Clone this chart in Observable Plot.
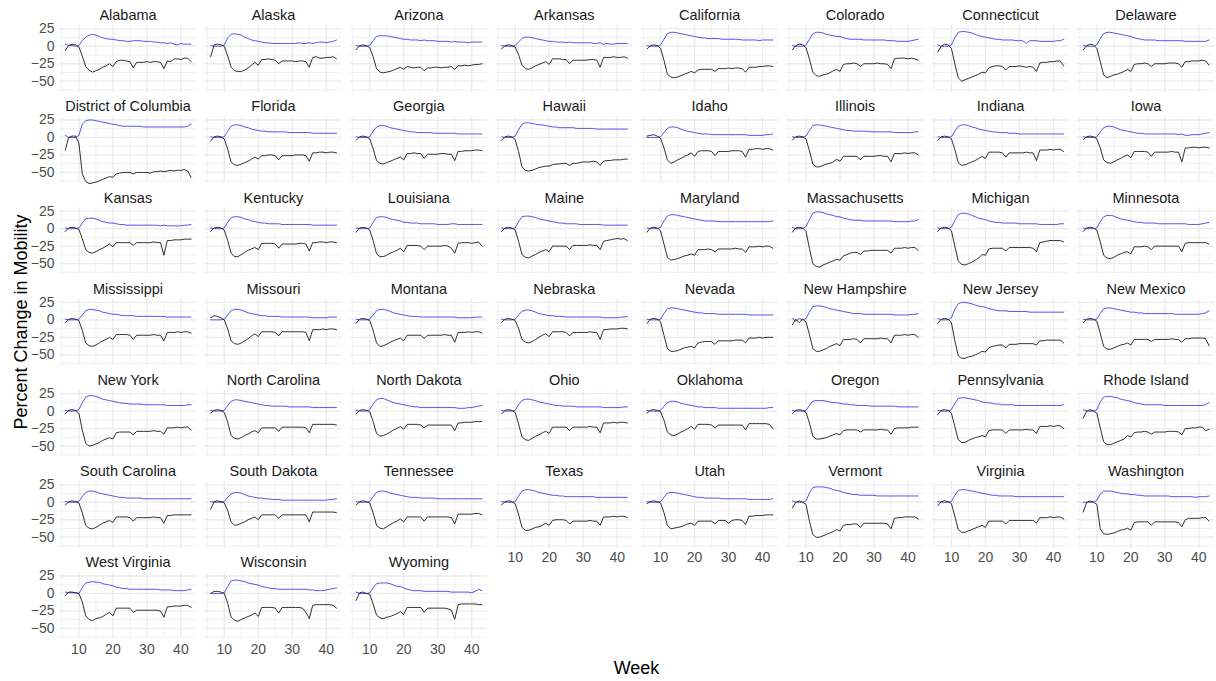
<!DOCTYPE html>
<html>
<head>
<meta charset="utf-8">
<script src="https://cdn.jsdelivr.net/npm/d3@7"></script>
<script src="https://cdn.jsdelivr.net/npm/@observablehq/plot@0.6"></script>
<style>
  html, body { margin: 0; padding: 0; background: #ffffff; }
  #chart { position: relative; width: 1216px; height: 681px; }
</style>
</head>
<body>
<div id="chart"></div>
<script>
// ---------------- data ----------------
const weeks = [6,7,8,9,10,11,12,13,14,15,16,17,18,19,20,21,22,23,24,25,26,27,28,29,30,31,32,33,34,35,36,37,38,39,40,41,42,43];

const states = ["Alabama","Alaska","Arizona","Arkansas","California","Colorado","Connecticut","Delaware",
  "District of Columbia","Florida","Georgia","Hawaii","Idaho","Illinois","Indiana","Iowa",
  "Kansas","Kentucky","Louisiana","Maine","Maryland","Massachusetts","Michigan","Minnesota",
  "Mississippi","Missouri","Montana","Nebraska","Nevada","New Hampshire","New Jersey","New Mexico",
  "New York","North Carolina","North Dakota","Ohio","Oklahoma","Oregon","Pennsylvania","Rhode Island",
  "South Carolina","South Dakota","Tennessee","Texas","Utah","Vermont","Virginia","Washington",
  "West Virginia","Wisconsin","Wyoming"];

// black line (one row per state, weeks 6..43)
const workplaces = [
  [-6,1,3,2,-1,-14,-29,-34,-37,-35,-33,-30,-28,-25,-29,-22,-20,-20,-21,-22,-31,-23,-23,-23,-22,-23,-22,-22,-23,-32,-21,-22,-18,-18,-19,-17,-17,-22],
  [-15,2,3,2,0,-14,-30,-35,-36,-36,-34,-31,-27,-23,-27,-19,-19,-18,-19,-20,-25,-21,-21,-21,-21,-22,-21,-21,-22,-30,-16,-15,-17,-17,-16,-16,-15,-18],
  [-5,1,2,1,-2,-15,-32,-37,-38,-37,-36,-34,-32,-30,-33,-29,-30,-31,-30,-30,-35,-31,-31,-30,-30,-31,-30,-30,-29,-33,-28,-28,-27,-28,-27,-26,-26,-25],
  [-4,1,2,1,-1,-12,-27,-32,-33,-31,-28,-26,-24,-22,-26,-18,-18,-18,-19,-19,-25,-20,-20,-20,-20,-20,-19,-19,-20,-30,-16,-16,-16,-15,-16,-16,-15,-17],
  [-4,1,2,1,-3,-20,-40,-44,-45,-44,-42,-40,-38,-36,-38,-34,-33,-33,-33,-33,-36,-32,-32,-32,-31,-32,-31,-31,-32,-37,-30,-30,-30,-29,-29,-28,-28,-29],
  [-5,1,3,2,-2,-18,-37,-42,-43,-41,-40,-38,-35,-33,-36,-26,-25,-25,-24,-25,-29,-25,-25,-25,-25,-24,-25,-25,-26,-32,-18,-17,-17,-17,-18,-17,-18,-20],
  [-8,0,3,2,-3,-25,-45,-50,-48,-46,-44,-42,-40,-37,-38,-31,-29,-28,-28,-29,-34,-29,-29,-29,-28,-29,-30,-29,-30,-36,-24,-23,-23,-22,-22,-21,-21,-28],
  [-5,1,3,2,-3,-22,-41,-45,-43,-41,-40,-38,-36,-33,-36,-26,-25,-25,-24,-25,-29,-25,-25,-25,-25,-24,-24,-24,-25,-30,-22,-22,-21,-21,-21,-20,-21,-27],
  [-18,0,2,2,-8,-52,-63,-66,-65,-64,-62,-60,-58,-56,-57,-52,-51,-50,-50,-50,-52,-50,-50,-50,-50,-51,-49,-49,-48,-49,-48,-47,-48,-47,-47,-46,-48,-57],
  [-5,1,2,1,-2,-17,-35,-39,-40,-38,-36,-34,-31,-28,-31,-26,-26,-25,-25,-26,-32,-26,-26,-26,-26,-25,-25,-25,-26,-34,-22,-22,-21,-21,-22,-21,-21,-22],
  [-4,1,2,1,-2,-16,-33,-37,-38,-36,-34,-32,-30,-28,-32,-23,-23,-22,-23,-23,-30,-24,-24,-24,-24,-23,-23,-24,-24,-33,-20,-20,-19,-19,-19,-18,-18,-19],
  [-4,1,2,1,-3,-20,-42,-47,-48,-47,-45,-43,-42,-41,-41,-39,-38,-38,-37,-37,-40,-37,-37,-36,-35,-35,-35,-34,-35,-40,-34,-33,-33,-32,-32,-32,-31,-31],
  [2,3,4,2,-1,-15,-32,-37,-35,-32,-30,-27,-25,-22,-27,-20,-19,-19,-19,-20,-26,-20,-20,-20,-20,-19,-19,-19,-20,-28,-17,-17,-16,-16,-17,-16,-16,-18],
  [-4,1,2,1,-2,-19,-38,-42,-42,-40,-38,-37,-35,-31,-34,-27,-27,-27,-27,-27,-32,-27,-27,-27,-27,-26,-26,-27,-27,-35,-23,-23,-23,-22,-23,-22,-22,-25],
  [-4,1,2,1,-2,-17,-36,-40,-39,-37,-35,-33,-30,-27,-30,-21,-21,-21,-21,-22,-28,-22,-22,-22,-22,-22,-21,-22,-22,-33,-18,-18,-18,-17,-18,-17,-17,-20],
  [-3,1,2,1,-2,-15,-32,-36,-37,-35,-32,-30,-27,-25,-29,-20,-20,-20,-20,-21,-27,-21,-21,-21,-21,-21,-20,-21,-21,-35,-15,-15,-14,-14,-15,-14,-14,-15],
  [-4,1,2,1,-1,-14,-30,-34,-35,-33,-30,-28,-25,-22,-26,-20,-20,-20,-20,-20,-24,-20,-20,-20,-20,-20,-19,-20,-20,-38,-17,-17,-16,-16,-16,-15,-15,-15],
  [-4,1,2,1,-2,-17,-35,-40,-40,-37,-34,-31,-29,-27,-30,-21,-21,-21,-21,-22,-28,-22,-22,-22,-22,-22,-21,-21,-22,-32,-20,-20,-19,-19,-20,-19,-19,-20],
  [-5,1,2,1,-2,-17,-36,-40,-40,-38,-35,-33,-31,-28,-33,-24,-24,-24,-24,-25,-30,-25,-25,-25,-25,-25,-24,-25,-28,-35,-21,-20,-20,-20,-21,-20,-19,-25],
  [-4,1,2,1,-2,-18,-37,-41,-42,-39,-37,-34,-32,-30,-33,-25,-25,-25,-25,-25,-30,-24,-24,-24,-24,-24,-23,-24,-24,-30,-18,-17,-16,-15,-14,-15,-14,-17],
  [-5,1,2,1,-3,-22,-41,-45,-44,-43,-41,-39,-38,-36,-38,-30,-30,-30,-29,-30,-33,-29,-29,-29,-29,-29,-28,-29,-29,-34,-26,-26,-26,-25,-26,-25,-25,-28],
  [-5,1,2,1,-4,-28,-50,-54,-55,-52,-50,-48,-46,-44,-45,-39,-37,-35,-34,-34,-37,-32,-32,-31,-31,-31,-31,-31,-31,-35,-28,-28,-28,-27,-28,-27,-27,-31],
  [-4,1,2,1,-3,-25,-46,-51,-52,-50,-48,-45,-42,-37,-38,-29,-28,-28,-28,-28,-32,-27,-27,-27,-27,-27,-27,-27,-28,-33,-20,-19,-18,-17,-17,-17,-17,-19],
  [-4,1,2,1,-2,-19,-38,-42,-43,-41,-38,-36,-34,-33,-36,-26,-26,-26,-25,-26,-30,-25,-25,-25,-25,-25,-25,-25,-25,-33,-21,-20,-20,-20,-20,-20,-20,-22],
  [-4,1,2,1,-1,-15,-33,-37,-38,-36,-33,-30,-28,-25,-28,-21,-21,-21,-21,-22,-28,-22,-22,-22,-22,-22,-21,-22,-22,-30,-18,-18,-18,-17,-18,-17,-17,-19],
  [3,6,5,3,0,-13,-30,-34,-35,-33,-30,-27,-23,-20,-24,-17,-17,-17,-17,-18,-23,-17,-17,-17,-17,-17,-17,-17,-18,-30,-14,-14,-14,-13,-14,-13,-13,-14],
  [-5,1,2,1,-1,-15,-33,-38,-37,-35,-32,-30,-28,-26,-30,-22,-22,-22,-22,-22,-27,-22,-22,-22,-22,-22,-21,-22,-22,-32,-18,-18,-18,-17,-18,-17,-17,-19],
  [-4,1,2,1,-1,-12,-28,-32,-33,-31,-28,-25,-22,-20,-24,-17,-17,-17,-17,-18,-23,-18,-18,-18,-18,-18,-17,-18,-18,-28,-14,-14,-13,-13,-13,-12,-12,-13],
  [-5,1,2,1,-3,-22,-41,-45,-45,-44,-42,-40,-39,-38,-40,-33,-32,-31,-31,-31,-35,-30,-30,-30,-30,-30,-29,-29,-29,-33,-26,-26,-26,-25,-26,-25,-25,-25],
  [-7,1,-4,1,-3,-21,-41,-45,-45,-43,-41,-38,-36,-34,-37,-28,-28,-28,-27,-28,-33,-27,-27,-27,-27,-27,-26,-27,-27,-33,-22,-22,-22,-21,-22,-21,-21,-25],
  [-5,1,2,1,-4,-30,-51,-55,-55,-53,-52,-50,-48,-45,-46,-40,-38,-37,-36,-36,-40,-35,-35,-35,-34,-34,-34,-34,-34,-36,-30,-30,-29,-29,-29,-29,-29,-33],
  [-4,1,2,1,-2,-19,-38,-42,-42,-40,-38,-36,-35,-33,-36,-28,-28,-28,-28,-28,-31,-28,-28,-28,-28,-28,-27,-28,-28,-32,-27,-27,-26,-26,-26,-26,-27,-37],
  [-4,1,2,1,-3,-27,-46,-50,-49,-47,-45,-42,-40,-38,-40,-31,-30,-30,-30,-30,-34,-29,-29,-29,-29,-29,-28,-29,-29,-33,-24,-24,-24,-23,-24,-23,-23,-27],
  [-3,1,2,1,-2,-16,-35,-39,-40,-38,-35,-33,-30,-28,-31,-24,-24,-24,-24,-24,-29,-23,-23,-23,-23,-23,-23,-23,-24,-31,-19,-19,-19,-19,-19,-19,-19,-20],
  [-4,1,2,1,-1,-15,-32,-36,-35,-33,-30,-27,-25,-22,-26,-19,-19,-19,-19,-20,-24,-20,-20,-20,-20,-20,-20,-20,-20,-28,-17,-17,-16,-16,-16,-15,-15,-15],
  [-4,1,2,1,-2,-18,-37,-41,-42,-39,-36,-34,-31,-29,-32,-23,-23,-23,-23,-23,-28,-23,-23,-23,-23,-23,-22,-23,-23,-31,-17,-17,-17,-16,-17,-16,-16,-17],
  [-3,1,2,1,-1,-13,-30,-34,-35,-33,-30,-28,-25,-22,-26,-19,-19,-19,-19,-20,-24,-20,-20,-20,-20,-20,-20,-20,-20,-27,-18,-18,-18,-18,-18,-18,-19,-25],
  [-4,1,2,1,-2,-17,-36,-40,-40,-39,-38,-36,-34,-32,-34,-28,-27,-27,-27,-27,-30,-27,-27,-27,-27,-27,-26,-27,-27,-33,-25,-24,-24,-24,-24,-23,-23,-23],
  [-5,1,2,1,-3,-22,-41,-45,-45,-42,-40,-38,-37,-35,-37,-28,-27,-27,-27,-27,-32,-27,-27,-27,-27,-27,-26,-27,-27,-32,-22,-22,-22,-21,-22,-21,-21,-25],
  [-10,0,2,0,-3,-24,-44,-48,-48,-46,-44,-42,-40,-35,-37,-31,-30,-30,-29,-30,-33,-30,-30,-30,-30,-29,-29,-29,-30,-34,-25,-25,-24,-24,-23,-23,-28,-26],
  [-4,1,2,1,-1,-15,-33,-37,-38,-36,-33,-30,-28,-26,-29,-21,-21,-21,-21,-22,-27,-22,-22,-22,-22,-22,-21,-22,-22,-30,-19,-19,-18,-18,-18,-18,-18,-18],
  [-10,1,2,1,-1,-12,-28,-33,-32,-30,-28,-25,-23,-21,-25,-18,-18,-18,-18,-18,-23,-18,-18,-18,-18,-18,-18,-18,-18,-28,-14,-14,-14,-14,-14,-14,-14,-15],
  [-4,1,2,1,-1,-15,-33,-37,-38,-35,-32,-29,-27,-24,-28,-21,-21,-21,-21,-21,-27,-21,-21,-21,-21,-21,-21,-21,-22,-31,-17,-17,-17,-17,-17,-16,-16,-18],
  [-4,1,2,1,-2,-17,-36,-40,-40,-38,-36,-35,-33,-30,-33,-26,-25,-25,-25,-26,-31,-27,-27,-27,-27,-27,-26,-27,-27,-33,-21,-21,-21,-20,-21,-20,-20,-22],
  [-2,1,2,1,-1,-15,-33,-38,-37,-36,-35,-33,-31,-30,-33,-27,-27,-27,-27,-27,-31,-26,-26,-26,-30,-26,-25,-25,-26,-32,-20,-20,-19,-19,-19,-18,-18,-18],
  [-8,0,2,0,-3,-27,-46,-50,-50,-48,-46,-44,-42,-39,-41,-33,-32,-32,-31,-31,-36,-30,-30,-30,-30,-30,-30,-30,-31,-38,-23,-22,-22,-21,-21,-21,-21,-24],
  [-5,1,2,1,-2,-20,-39,-43,-43,-41,-39,-37,-35,-33,-36,-27,-27,-27,-27,-27,-31,-26,-26,-26,-26,-26,-26,-26,-26,-30,-22,-22,-22,-21,-22,-21,-21,-24],
  [-14,0,2,0,-3,-38,-45,-46,-45,-44,-42,-40,-39,-37,-40,-29,-28,-28,-28,-28,-33,-28,-28,-28,-28,-28,-28,-28,-29,-35,-25,-23,-23,-23,-23,-22,-22,-27],
  [-3,2,2,1,0,-12,-32,-37,-39,-36,-35,-33,-30,-27,-32,-21,-21,-21,-21,-21,-27,-24,-24,-24,-24,-24,-24,-24,-25,-34,-19,-19,-18,-18,-18,-17,-17,-20],
  [0,3,3,2,0,-14,-34,-38,-40,-37,-35,-33,-31,-28,-33,-20,-20,-20,-20,-21,-28,-20,-20,-20,-20,-20,-20,-21,-27,-36,-17,-16,-16,-16,-16,-16,-17,-21],
  [-10,1,2,0,-1,-15,-31,-35,-36,-34,-33,-31,-29,-26,-30,-20,-20,-20,-20,-20,-27,-21,-21,-21,-21,-21,-21,-22,-24,-37,-16,-15,-15,-15,-15,-15,-16,-16]
];

// blue line (one row per state, weeks 6..43)
const residential = [
  [3,1,1,0,1,8,13,16,17,16,14,12,11,10,10,9,8,8,7,7,8,8,8,7,7,7,6,6,5,5,4,5,3,2,4,3,3,3],
  [1,0,0,0,2,12,17,18,17,16,13,11,9,8,7,6,5,5,4,4,4,4,4,4,4,4,5,4,4,5,4,5,6,6,5,6,7,9],
  [1,0,0,0,1,8,14,15,15,15,14,13,12,11,10,10,9,9,9,8,9,8,8,8,7,7,7,7,6,7,6,6,6,5,6,6,6,6],
  [1,0,0,0,1,6,11,13,13,12,11,10,9,8,7,7,6,6,6,5,6,5,5,5,5,5,5,4,4,5,3,4,3,3,4,4,4,4],
  [1,0,0,0,2,10,18,20,20,19,18,17,16,15,14,13,12,12,11,11,11,11,10,10,10,10,10,10,9,9,9,9,9,8,9,9,9,9],
  [1,0,0,0,2,10,18,20,20,19,17,16,15,14,14,12,11,10,10,10,10,9,9,9,9,9,9,9,8,8,8,7,7,7,7,8,9,10],
  [2,0,0,0,2,12,20,21,21,20,19,17,15,14,13,12,11,10,10,9,9,9,9,8,8,8,4,8,8,8,7,7,7,7,7,8,8,10],
  [1,0,0,0,2,11,18,20,20,19,18,17,16,15,14,12,11,10,9,9,9,9,8,8,8,8,8,8,8,8,7,7,7,7,7,7,7,9],
  [3,0,0,0,3,19,24,25,25,24,23,22,21,20,19,18,17,16,16,16,16,16,16,15,15,15,15,15,15,15,15,15,15,15,15,15,16,19],
  [1,0,0,0,1,9,16,18,18,17,15,14,12,11,10,9,9,8,8,8,8,8,8,7,7,7,7,7,7,7,6,6,6,6,6,6,6,6],
  [1,0,0,0,1,9,15,17,17,16,14,13,12,11,10,9,8,8,7,7,7,7,7,6,6,6,6,6,6,6,5,5,5,5,5,5,5,5],
  [1,0,0,0,2,11,19,21,21,20,19,18,18,17,16,15,15,14,14,14,14,14,13,13,13,13,13,13,12,12,12,12,12,12,12,12,12,12],
  [0,0,0,0,1,7,13,15,15,14,12,10,9,8,7,6,5,5,5,4,4,4,4,4,4,4,4,4,4,4,3,3,3,3,3,4,4,5],
  [1,0,0,0,2,10,17,18,18,17,16,15,14,13,12,11,10,10,9,9,9,9,9,8,8,8,8,8,8,8,7,7,7,7,7,7,8,8],
  [1,0,0,0,1,9,16,18,18,17,15,14,12,11,10,9,8,8,7,7,7,6,6,6,5,5,5,5,5,5,5,5,5,5,5,5,5,5],
  [1,0,0,0,1,8,14,16,16,15,13,11,10,9,8,7,6,6,5,5,5,5,5,5,5,5,5,5,4,5,3,3,4,4,4,5,6,7],
  [1,0,0,0,1,8,14,15,15,14,12,10,9,8,8,7,6,6,5,5,5,5,5,5,5,5,5,5,4,5,4,4,4,4,4,5,5,6],
  [1,0,0,0,1,9,16,17,17,16,14,13,11,10,9,8,8,7,7,7,7,6,6,6,6,6,6,6,6,6,5,5,5,5,5,5,5,5],
  [1,0,0,0,1,9,16,17,17,16,14,13,12,11,9,9,8,8,8,7,7,7,7,7,6,6,6,6,7,7,6,6,6,6,6,6,6,6],
  [1,0,0,0,1,10,17,18,18,17,16,14,13,12,11,10,9,8,8,7,7,7,7,6,6,6,6,6,6,6,5,5,5,5,5,5,5,5],
  [1,0,0,0,2,11,18,20,20,19,18,17,16,15,14,13,12,11,11,11,11,10,10,10,10,10,10,10,10,10,10,10,10,10,10,10,10,11],
  [2,0,0,0,3,13,22,24,24,23,21,20,19,17,17,15,14,13,12,12,12,11,11,11,11,11,11,11,11,11,10,10,10,10,10,11,11,13],
  [1,0,0,0,2,12,20,22,22,21,19,17,15,14,13,11,10,9,9,8,8,8,8,8,7,7,7,7,7,7,6,6,6,6,6,6,7,7],
  [1,0,0,0,1,10,17,19,19,18,16,14,13,12,11,10,9,9,8,8,8,8,7,7,7,7,7,7,7,7,7,6,6,6,6,7,8,9],
  [1,0,0,0,1,7,13,15,15,14,13,11,10,9,8,8,7,6,6,6,6,5,5,5,5,5,5,5,5,5,4,4,4,4,4,4,4,4],
  [0,0,0,0,1,7,13,15,15,14,12,10,9,8,7,6,6,5,5,5,5,4,4,4,4,4,4,4,4,4,3,3,3,3,3,4,4,4],
  [1,0,0,0,1,7,13,15,15,14,12,10,9,8,7,6,5,5,5,4,4,4,4,4,4,4,4,4,4,4,3,3,3,3,3,4,4,4],
  [1,0,0,0,1,7,12,14,14,13,11,9,8,7,6,6,5,5,5,4,4,4,4,4,4,4,4,4,4,4,3,3,3,3,3,4,4,5],
  [1,0,0,0,1,9,16,17,17,16,15,14,13,12,11,10,10,9,9,9,9,8,8,8,8,8,8,8,8,8,7,7,7,7,7,7,7,7],
  [2,-2,2,0,2,11,19,20,20,19,18,16,15,14,13,12,11,10,9,9,9,8,8,8,8,8,8,8,8,8,7,7,7,7,7,8,8,9],
  [2,0,0,0,3,15,23,25,25,24,23,21,20,19,18,16,15,14,13,13,13,12,12,12,12,12,12,11,11,11,11,11,11,11,11,11,11,11],
  [1,0,0,0,1,9,16,17,17,16,15,14,13,12,11,11,10,10,9,9,9,9,9,9,9,9,9,8,8,8,8,8,8,8,8,9,10,13],
  [1,0,0,0,2,12,20,22,22,21,19,17,16,15,14,13,12,11,11,10,10,10,10,9,9,9,9,9,9,9,8,8,8,8,8,8,9,9],
  [1,0,0,0,1,8,14,16,16,15,14,13,12,11,10,9,8,8,7,7,7,7,7,6,6,6,6,6,6,6,5,5,5,5,5,5,5,5],
  [1,0,0,0,2,10,16,18,18,16,14,12,11,10,9,8,7,6,6,5,5,5,5,5,5,5,5,5,5,5,4,4,4,5,5,6,7,8],
  [1,0,0,0,1,9,15,17,17,16,15,13,12,11,10,9,8,8,7,7,7,7,6,6,6,6,6,6,6,6,5,5,5,5,5,5,6,6],
  [1,0,0,0,1,7,12,14,14,13,11,10,9,8,7,6,6,5,5,5,5,4,4,4,4,4,4,4,4,4,4,4,4,4,4,4,5,5],
  [1,0,0,0,1,8,14,15,15,15,14,13,12,12,11,10,10,9,9,8,8,8,8,7,7,7,7,7,7,7,7,6,6,6,6,6,6,6],
  [1,0,0,0,2,11,18,19,19,18,17,16,15,13,12,12,11,10,10,9,9,9,9,8,8,8,8,8,8,8,8,8,8,8,8,8,8,9],
  [2,0,0,0,2,13,20,21,21,20,19,17,16,15,14,12,11,10,9,9,9,9,9,9,8,8,8,8,8,8,8,8,8,8,8,8,9,12],
  [1,0,0,0,1,8,14,16,16,15,13,12,11,10,9,8,7,7,6,6,6,6,6,5,5,5,5,5,5,5,5,5,5,5,5,5,5,5],
  [1,0,0,0,1,7,12,14,14,13,11,9,8,7,6,6,5,5,4,4,4,3,3,3,3,3,3,3,3,3,3,3,3,3,3,4,4,5],
  [1,0,0,0,1,8,14,16,16,15,13,12,11,10,9,8,7,7,7,6,6,6,6,6,5,5,5,5,5,5,5,5,5,5,5,5,5,5],
  [1,0,0,0,1,9,16,18,18,17,16,14,13,12,11,10,10,9,9,8,8,8,8,8,8,8,8,8,7,7,7,7,7,7,7,7,7,7],
  [1,0,0,0,1,7,13,14,14,13,12,11,10,9,8,7,7,6,6,6,6,6,5,5,5,5,5,5,5,5,4,4,4,4,4,4,4,5],
  [2,0,0,0,2,13,21,22,22,22,21,20,18,17,16,14,13,12,11,11,10,10,10,10,10,9,9,9,9,9,9,9,9,9,9,9,9,9],
  [1,0,0,0,1,10,17,18,18,17,16,15,14,13,12,11,10,10,9,9,9,9,9,8,8,8,8,8,8,8,8,8,8,8,8,8,8,8],
  [0,0,0,0,3,12,16,16,16,15,14,13,12,12,11,11,10,10,9,9,9,9,9,9,9,9,8,8,8,8,8,8,8,7,8,8,8,9],
  [2,1,1,1,0,8,15,16,17,16,16,14,13,12,11,9,8,7,7,6,6,6,6,6,6,6,6,6,5,5,5,5,4,4,4,4,5,6],
  [0,0,0,0,1,10,18,19,19,18,17,15,14,13,12,10,9,8,7,7,6,6,6,6,6,6,6,6,6,5,5,4,4,4,5,6,7,8],
  [2,0,0,0,1,8,14,15,15,15,14,12,10,10,8,6,5,4,4,4,3,3,3,3,3,3,3,3,2,2,2,2,2,2,1,3,6,4]
];

const xTicks = [10, 20, 30, 40];
const xMinor = [5, 15, 25, 35];
const yTicks = [-50, -25, 0, 25];
const yMinor = [-62.5, -37.5, -12.5, 12.5];
const xTitle = "Week";
const yTitle = "Percent Change in Mobility";

// ---------------- build tables ----------------
const NCOL = 8;
const panels = states.map((s, i) => ({state: s, col: i % NCOL, row: Math.floor(i / NCOL)}));
const workRows = panels.flatMap((p, i) => weeks.map((w, j) => ({...p, week: w, value: workplaces[i][j]})));
const resRows = panels.flatMap((p, i) => weeks.map((w, j) => ({...p, week: w, value: residential[i][j]})));
const gridXMajor = panels.flatMap(p => xTicks.map(v => ({...p, v})));
const gridXMinor = panels.flatMap(p => xMinor.map(v => ({...p, v})));
const gridYMajor = panels.flatMap(p => yTicks.map(v => ({...p, v})));
const gridYMinor = panels.flatMap(p => yMinor.map(v => ({...p, v})));

const W = 1216, H = 681;
const font = "'Liberation Sans', Arial, Helvetica, sans-serif";
const gridColor = "#ebebeb";

const chart = Plot.plot({
  width: W,
  height: H,
  marginLeft: 59,
  marginRight: 2,
  marginTop: 25,
  marginBottom: 42.8,
  style: {fontFamily: font, background: "#ffffff", overflow: "visible"},
  x: {domain: [4.3, 44.6], axis: null},
  y: {domain: [-64.7, 29.7], axis: null},
  fx: {domain: d3.range(8), axis: null, paddingInner: 0.0578, paddingOuter: 0, round: false},
  fy: {domain: d3.range(7), axis: null, paddingInner: 0.2763, paddingOuter: 0, round: false},
  marks: [
    Plot.ruleX(gridXMinor, {x: "v", fx: "col", fy: "row", stroke: gridColor, strokeWidth: 0.7}),
    Plot.ruleY(gridYMinor, {y: "v", fx: "col", fy: "row", stroke: gridColor, strokeWidth: 0.7}),
    Plot.ruleX(gridXMajor, {x: "v", fx: "col", fy: "row", stroke: gridColor, strokeWidth: 1.3}),
    Plot.ruleY(gridYMajor, {y: "v", fx: "col", fy: "row", stroke: gridColor, strokeWidth: 1.3}),
    Plot.axisY({ticks: yTicks, facetAnchor: "left", tickSize: 0, tickPadding: 5, label: null,
      fontSize: 14, color: "#4d4d4d"}),
    Plot.axisX({ticks: xTicks, facetAnchor: "bottom-empty", tickSize: 0, tickPadding: 5, label: null,
      fontSize: 14, color: "#4d4d4d"}),
    Plot.line(resRows, {x: "week", y: "value", fx: "col", fy: "row", stroke: "#1f1fe8", strokeWidth: 0.9, strokeOpacity: 0.85}),
    Plot.line(workRows, {x: "week", y: "value", fx: "col", fy: "row", stroke: "#1a1a1a", strokeWidth: 0.9}),
    Plot.text(panels, {fx: "col", fy: "row", text: "state", frameAnchor: "top", lineAnchor: "middle",
      dy: -10, fontSize: 14.5, fill: "#1a1a1a"})
  ]
});

document.getElementById("chart").appendChild(chart);

// axis titles
const svg = d3.select(chart);
svg.append("text")
  .attr("x", 636.5).attr("y", 673.5)
  .attr("text-anchor", "middle")
  .attr("font-size", 18).attr("font-family", font).attr("fill", "#000")
  .text(xTitle);
svg.append("text")
  .attr("transform", "translate(26.5,322) rotate(-90)")
  .attr("text-anchor", "middle")
  .attr("font-size", 18).attr("font-family", font).attr("fill", "#000")
  .text(yTitle);
</script>
</body>
</html>
